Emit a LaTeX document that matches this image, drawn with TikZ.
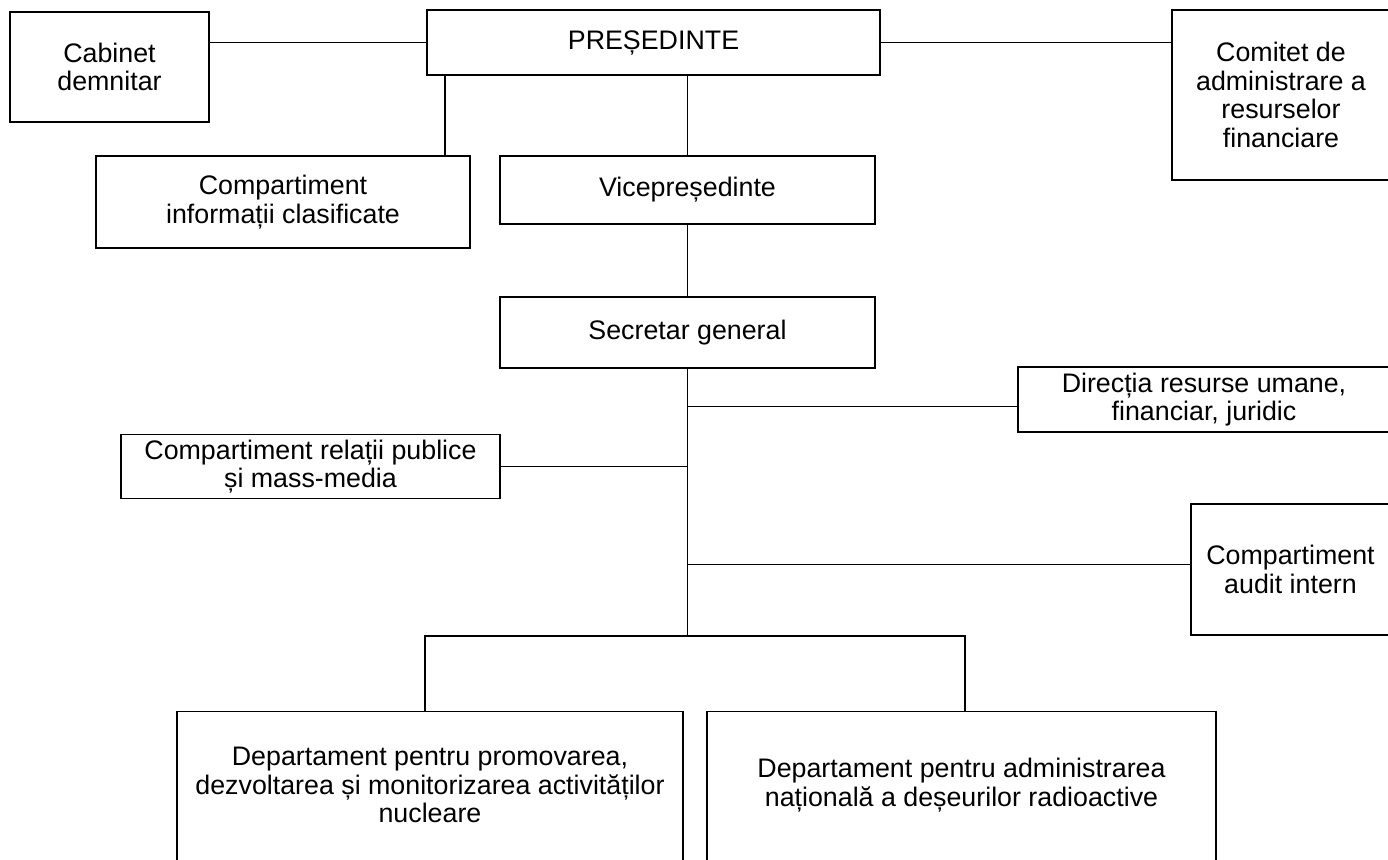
\documentclass[tikz,border=0pt]{standalone}
\usepackage{fontspec}
\setmainfont{Liberation Sans}
\begin{document}
\begin{tikzpicture}[x=0.5pt,y=-0.5pt,
  box/.style={draw, line width=0.9pt, rectangle, inner sep=0pt, align=center,
    font=\fontsize{13.4}{14.2}\selectfont},
  lbl/.style={inner sep=0pt, align=center, font=\fontsize{13.4}{14.2}\selectfont},
  conn/.style={line width=0.9pt}]
\useasboundingbox (0,0) rectangle (1388,860);
\clip (0,0) rectangle (1388,860);

\node[box, minimum width=226.5pt, minimum height=32.5pt] (pres) at (653.5,42.5) {PREȘEDINTE};
\node[box, minimum width=99.5pt, minimum height=55pt] (cab) at (109.5,67) {Cabinet\\demnitar};
\node[box, minimum width=109pt, minimum height=85pt] (com) at (1281,95) {Comitet de\\administrare a\\resurselor\\financiare};
\node[box, minimum width=187pt, minimum height=46pt] (info) at (283,202) {Compartiment\\informații clasificate};
\node[box, minimum width=187.5pt, minimum height=34pt] (vice) at (687.5,190) {Vicepreședinte};
\node[box, minimum width=187.5pt, minimum height=35.5pt] (sec) at (687.5,332.5) {Secretar general};
\node[box, minimum width=186pt, minimum height=32.5pt] (dir) at (1204,399.5) {Direcția resurse umane,\\financiar, juridic};
\node[box, minimum width=189.5pt, minimum height=32pt] (rel) at (310.5,466.5) {Compartiment relații publice\\și mass-media};
\node[box, minimum width=99.5pt, minimum height=65.5pt] (aud) at (1290.5,569.5) {Compartiment\\audit intern};
\node[box, minimum width=253pt, minimum height=94.5pt] (dep1) at (430,806) {};
\node[lbl] (dep1t) at (430,785) {Departament pentru promovarea,\\dezvoltarea și monitorizarea activităților\\nucleare};
\node[box, minimum width=254.5pt, minimum height=94.5pt] (dep2) at (961.5,806) {};
\node[lbl] (dep2t) at (961.5,785) {Departament pentru administrarea\\națională a deșeurilor radioactive};

\coordinate (bus) at (687.5,636);

\draw[conn] (pres.west) -- (pres.west -| cab.east);
\draw[conn] (pres.east) -- (pres.east -| com.west);
\draw[conn] ([xshift=9.5pt]pres.south west) -- ([xshift=9.5pt]pres.south west |- info.north);
\draw[conn] (vice.north) -- (vice.north |- pres.south);
\draw[conn] (vice.south) -- (sec.north);
\draw[conn] (sec.south) -- (bus);
\draw[conn] ([yshift=-3.5pt]dir.west) -- ([yshift=-3.5pt]dir.west -| bus);
\draw[conn] (rel.east) -- (rel.east -| bus);
\draw[conn] ([yshift=2.5pt]aud.west) -- ([yshift=2.5pt]aud.west -| bus);
\draw[conn] ([xshift=-2.5pt]dep1.north) |- (bus) -| ([xshift=1.75pt]dep2.north);
\end{tikzpicture}
\end{document}
